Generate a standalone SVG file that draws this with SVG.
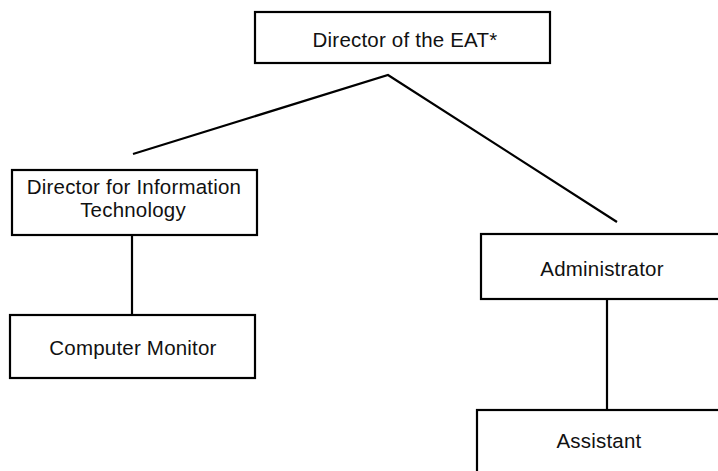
<svg xmlns="http://www.w3.org/2000/svg" width="718" height="471" viewBox="0 0 718 471">
<style>
.box{fill:#fff;stroke:#000;stroke-width:2.2}
.lbl{font-family:"Liberation Sans",Arial,sans-serif;font-size:20.5px;letter-spacing:0.2px;fill:#111;text-anchor:middle}
.con{stroke:#000;stroke-width:2.2;fill:none}
</style>
<rect width="718" height="471" fill="#fff"/>
<g id="connectors">
<polyline class="con" points="133,154 388,75 617,222"/>
<line class="con" x1="132" y1="235" x2="132" y2="315"/>
<line class="con" x1="607" y1="299" x2="607" y2="410"/>
</g>
<g id="director">
<rect class="box" x="255" y="12" width="295" height="51"/>
<text class="lbl" x="405" y="47">Director of the EAT*</text>
</g>
<g id="dir-it">
<rect class="box" x="12" y="170" width="245" height="65"/>
<text class="lbl" x="134" y="194">Director for Information</text>
<text class="lbl" x="133" y="217">Technology</text>
</g>
<g id="monitor">
<rect class="box" x="10" y="315" width="245" height="63"/>
<text class="lbl" x="133" y="355">Computer Monitor</text>
</g>
<g id="admin">
<rect class="box" x="481" y="234" width="250" height="65"/>
<text class="lbl" x="602" y="276">Administrator</text>
</g>
<g id="assistant">
<rect class="box" x="477" y="410" width="260" height="80"/>
<text class="lbl" x="599" y="448">Assistant</text>
</g>
</svg>
